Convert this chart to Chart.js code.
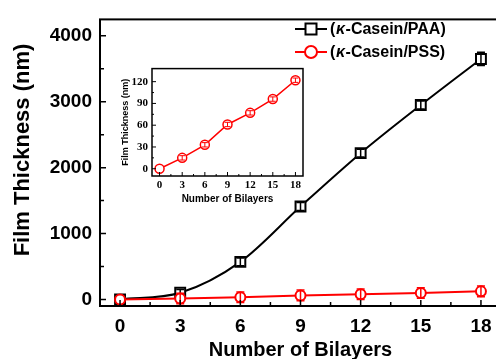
<!DOCTYPE html>
<html>
<head>
<meta charset="utf-8">
<script src="https://cdn.jsdelivr.net/npm/chart.js@4.4.1/dist/chart.umd.min.js"></script>
<style>
  html, body { margin: 0; padding: 0; background: #fff; overflow: hidden; width: 496px; height: 359px; }
  #wrap { position: relative; width: 496px; height: 359px; overflow: hidden; }
  #main { position: absolute; left: 0; top: 0; }
  #inset { position: absolute; left: 112px; top: 58px; }
</style>
</head>
<body>
<div id="wrap">
  <canvas id="main" width="510" height="359"></canvas>
  <canvas id="inset" width="200" height="150"></canvas>
</div>
<script>
// data
const bilayers = [0, 3, 6, 9, 12, 15, 18];
const paaThickness = [0, 100, 570, 1410, 2220, 2950, 3650];
const paaError = [0, 50, 60, 60, 60, 60, 100];
const pssThickness = [0, 15, 33, 61, 77, 96, 122];
const pssErrorMain = [0, 80, 80, 80, 80, 80, 80];
const pssErrorInset = [0, 3, 3, 3, 3, 3, 3];

const xTicks = [0, 3, 6, 9, 12, 15, 18];
const xMinorTicks = [1.5, 4.5, 7.5, 10.5, 13.5, 16.5];
const yTicks = [0, 1000, 2000, 3000, 4000];
const yMinorTicks = [500, 1500, 2500, 3500];
const insetYTicks = [0, 30, 60, 90, 120];
const insetYMinorTicks = [15, 45, 75, 105];

const RED = '#ff0000';
const SANS = '"Liberation Sans", Arial, sans-serif';
const SERIF = '"Liberation Serif", "Times New Roman", serif';

const pts = (ys) => bilayers.map((b, i) => ({ x: b, y: ys[i] }));

// frame box + inward tick marks
const frameTicks = {
  id: 'frameTicks',
  afterDraw(chart, args, o) {
    const { ctx, chartArea: a, scales } = chart;
    ctx.save();
    ctx.strokeStyle = '#000';
    ctx.lineWidth = o.lw;
    ctx.strokeRect(a.left, a.top, a.right - a.left, a.bottom - a.top);
    ctx.lineWidth = o.tickW;
    ctx.beginPath();
    const tx = (list, len) => list.forEach(v => {
      const px = scales.x.getPixelForValue(v);
      ctx.moveTo(px, a.bottom); ctx.lineTo(px, a.bottom - len);
    });
    const ty = (list, len) => list.forEach(v => {
      const py = scales.y.getPixelForValue(v);
      ctx.moveTo(a.left, py); ctx.lineTo(a.left + len, py);
    });
    tx(o.xMajor, o.major); tx(o.xMinor, o.minor);
    ty(o.yMajor, o.major); ty(o.yMinor, o.minor);
    ctx.stroke();
    ctx.restore();
  }
};

// error bars on each dataset
const errorBars = {
  id: 'errorBars',
  afterDatasetDraw(chart, args, o) {
    const ds = chart.data.datasets[args.index];
    if (!ds.errors) return;
    const { ctx } = chart;
    const ys = chart.scales.y;
    ctx.save();
    ctx.strokeStyle = ds.borderColor;
    ctx.lineWidth = o.lw;
    ctx.beginPath();
    args.meta.data.forEach((p, i) => {
      const e = ds.errors[i];
      if (!e) return;
      const v = ds.data[i].y;
      const t = ys.getPixelForValue(v + e), b = ys.getPixelForValue(v - e);
      ctx.moveTo(p.x, t); ctx.lineTo(p.x, b);
      ctx.moveTo(p.x - o.cap, t); ctx.lineTo(p.x + o.cap, t);
      ctx.moveTo(p.x - o.cap, b); ctx.lineTo(p.x + o.cap, b);
    });
    ctx.stroke();
    ctx.restore();
  }
};

// legend: line with marker, then label with italic kappa; plus y title
const lineLegend = {
  id: 'lineLegend',
  afterDraw(chart, args, o) {
    const { ctx } = chart;
    ctx.save();
    o.items.forEach(it => {
      const ds = chart.data.datasets[it.index];
      ctx.strokeStyle = ds.borderColor;
      ctx.lineWidth = 2;
      ctx.beginPath();
      ctx.moveTo(o.x0, it.y); ctx.lineTo(o.x1, it.y);
      ctx.stroke();
      ctx.fillStyle = '#fff';
      const mx = (o.x0 + o.x1) / 2;
      ctx.beginPath();
      if (ds.pointStyle === 'rect') {
        ctx.rect(mx - 5.5, it.y - 5.5, 11, 11);
      } else {
        ctx.arc(mx, it.y, 6, 0, Math.PI * 2);
      }
      ctx.fill(); ctx.stroke();
      ctx.fillStyle = '#000';
      ctx.textBaseline = 'middle';
      let x = o.tx;
      it.parts.forEach(([txt, italic]) => {
        ctx.font = (italic ? 'italic ' : '') + 'bold 16px ' + SANS;
        ctx.fillText(txt, x, it.y + 1);
        x += ctx.measureText(txt).width + 0.6;
      });
    });
    // y axis title
    ctx.translate(o.yTitle.x, o.yTitle.y);
    ctx.rotate(-Math.PI / 2);
    ctx.font = 'bold 22px ' + SANS;
    ctx.textAlign = 'center';
    ctx.textBaseline = 'middle';
    ctx.fillText(o.yTitle.text, 0, 0);
    ctx.restore();
  }
};

const setTicks = (list) => (s) => { s.ticks = list.map(v => ({ value: v })); };
const plain = (v) => String(v);

new Chart(document.getElementById('main'), {
  type: 'line',
  data: {
    datasets: [
      {
        label: '(κ-Casein/PAA)',
        data: pts(paaThickness),
        errors: paaError,
        borderColor: '#000',
        borderWidth: 2,
        cubicInterpolationMode: 'monotone',
        pointStyle: 'rect',
        pointRadius: 7,
        pointBorderWidth: 2,
        pointBackgroundColor: '#fff',
        pointBorderColor: '#000',
        order: 2
      },
      {
        label: '(κ-Casein/PSS)',
        data: pts(pssThickness),
        errors: pssErrorMain,
        borderColor: RED,
        borderWidth: 2,
        tension: 0,
        pointStyle: 'circle',
        pointRadius: 5,
        pointBorderWidth: 2,
        pointBackgroundColor: '#fff',
        pointBorderColor: RED,
        order: 1
      }
    ]
  },
  options: {
    responsive: false,
    animation: false,
    layout: { padding: { top: 10, right: 7, left: 0, bottom: 0 } },
    plugins: {
      legend: { display: false },
      tooltip: { enabled: false },
      frameTicks: { lw: 2, tickW: 1.5, major: 6, minor: 4,
        xMajor: xTicks, xMinor: xMinorTicks, yMajor: yTicks, yMinor: yMinorTicks },
      errorBars: { lw: 1.5, cap: 4 },
      lineLegend: {
        x0: 295, x1: 327, tx: 330,
        items: [
          { index: 0, y: 29, parts: [['(', false], ['κ', true], ['-Casein/PAA)', false]] },
          { index: 1, y: 52, parts: [['(', false], ['κ', true], ['-Casein/PSS)', false]] }
        ],
        yTitle: { text: 'Film Thickness (nm)', x: 23, y: 150 }
      }
    },
    scales: {
      x: {
        type: 'linear', min: -1, max: 19,
        afterBuildTicks: setTicks(xTicks),
        afterFit: (s) => { s.height = 53; },
        grid: { display: false, drawTicks: false },
        border: { display: false },
        ticks: { padding: 9, color: '#000', autoSkip: false, maxRotation: 0, callback: plain,
          font: { family: SANS, size: 19, weight: 'bold' } },
        title: { display: true, text: 'Number of Bilayers', color: '#000',
          padding: { top: 0, bottom: -3 },
          font: { family: SANS, size: 20, weight: 'bold' } }
      },
      y: {
        type: 'linear', min: -100, max: 4250,
        afterBuildTicks: setTicks(yTicks),
        afterFit: (s) => { s.width = 100; },
        grid: { display: false, drawTicks: false },
        border: { display: false },
        ticks: { padding: 8, color: '#000', autoSkip: false, callback: plain,
          font: { family: SANS, size: 19, weight: 'bold' } }
      }
    }
  },
  plugins: [frameTicks, errorBars, lineLegend]
});

new Chart(document.getElementById('inset'), {
  type: 'line',
  data: {
    datasets: [{
      label: '(κ-Casein/PSS)',
      data: pts(pssThickness),
      errors: pssErrorInset,
      borderColor: RED,
      borderWidth: 1.5,
      tension: 0,
      pointStyle: 'circle',
      pointRadius: 4.5,
      pointBorderWidth: 1.5,
      pointBackgroundColor: '#fff',
      pointBorderColor: RED
    }]
  },
  options: {
    responsive: false,
    animation: false,
    layout: { padding: { top: 8, right: 9, left: 0, bottom: 0 } },
    plugins: {
      legend: { display: false },
      tooltip: { enabled: false },
      frameTicks: { lw: 1.5, tickW: 1, major: 4, minor: 2,
        xMajor: xTicks, xMinor: xMinorTicks, yMajor: insetYTicks, yMinor: insetYMinorTicks },
      errorBars: { lw: 1, cap: 3 }
    },
    scales: {
      x: {
        type: 'linear', min: -1, max: 19,
        afterBuildTicks: setTicks(xTicks),
        afterFit: (s) => { s.height = 32; },
        grid: { display: false, drawTicks: false },
        border: { display: false },
        ticks: { padding: 3, color: '#000', autoSkip: false, maxRotation: 0, callback: plain,
          font: { family: SERIF, size: 11, weight: 'bold' } },
        title: { display: true, text: 'Number of Bilayers', color: '#000',
          padding: { top: 0, bottom: 3 },
          font: { family: SANS, size: 10, weight: 'bold' } }
      },
      y: {
        type: 'linear', min: -10, max: 138,
        afterBuildTicks: setTicks(insetYTicks),
        afterFit: (s) => { s.width = 40; },
        grid: { display: false, drawTicks: false },
        border: { display: false },
        ticks: { padding: 4, color: '#000', autoSkip: false, callback: plain,
          font: { family: SERIF, size: 11, weight: 'bold' } },
        title: { display: true, text: 'Film Thickness (nm)', color: '#000',
          padding: { top: 8, bottom: 0 },
          font: { family: SANS, size: 9, weight: 'bold' } }
      }
    }
  },
  plugins: [frameTicks, errorBars]
});
</script>
</body>
</html>
